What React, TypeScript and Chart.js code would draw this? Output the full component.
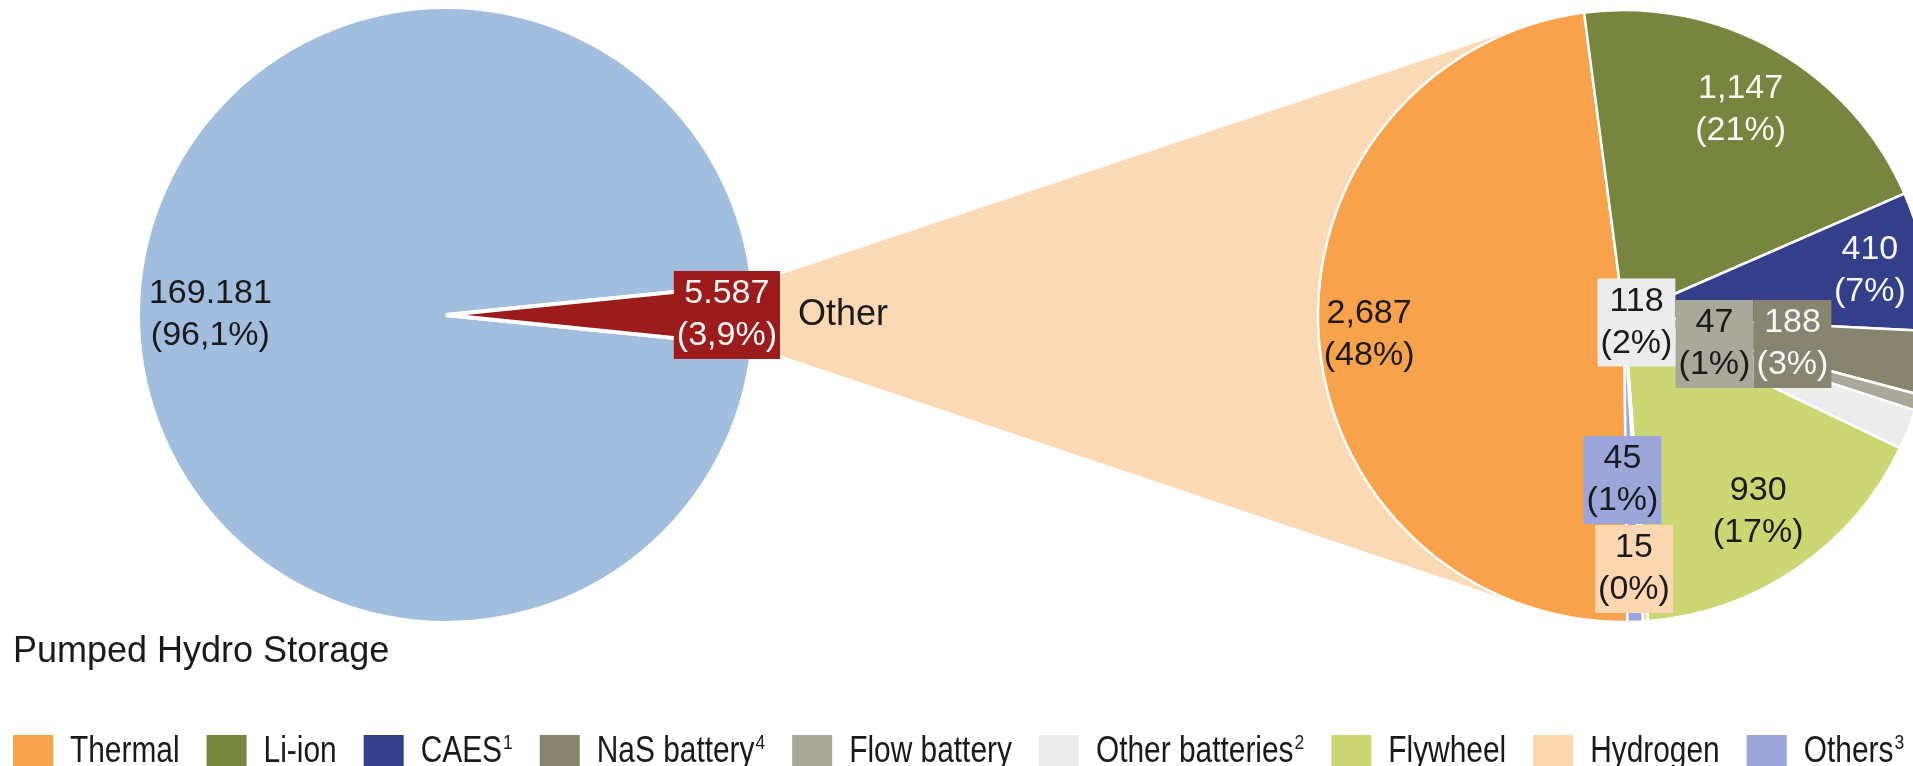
import React, { useEffect, useRef } from "react";
import { Chart, registerables } from "chart.js";

Chart.register(...registerables);

const WIDTH = 1913;
const HEIGHT = 766;
const FONT = '"Liberation Sans", Arial, Helvetica, sans-serif';
const DARK = "#1a1a1a";
const LIGHT = "#f7f7f7";

// Overview pie: pumped hydro versus all other technologies
const overviewLabels = ["Pumped Hydro Storage", "Other"];
const overviewValues = [169181, 5587];
const overviewShares = ["(96,1%)", "(3,9%)"];
const overviewColors = ["#a2bedf", "#9c1b1b"];

// Breakdown pie: the "Other" slice split by technology
const techLabels = [
  "Thermal",
  "Li-ion",
  "CAES",
  "NaS battery",
  "Flow battery",
  "Other batteries",
  "Flywheel",
  "Hydrogen",
  "Others",
];
const techFootnotes = ["", "", "1", "4", "", "2", "", "", "3"];
const techValues = [2687, 1147, 410, 188, 47, 118, 930, 15, 45];
const techColors = [
  "#f8a24b",
  "#77853f",
  "#343f8a",
  "#87846f",
  "#a9a89b",
  "#ececec",
  "#ccd774",
  "#fcd7b1",
  "#9ca6da",
];
const bridgeColor = "#fbd9b5";

type LabelSpec = { r?: number; dx?: number; dy?: number; color: string; boxed?: boolean };

// r: fraction of the radius along the slice bisector; dx/dy: offset from the pie centre
const overviewLabelSpecs: LabelSpec[] = [
  { r: 0.765, color: DARK },
  { r: 0.912, color: LIGHT, boxed: true },
];
const techLabelSpecs: LabelSpec[] = [
  { r: 0.835, color: DARK },
  { r: 0.775, color: LIGHT },
  { r: 0.817, color: LIGHT },
  { dx: 168.5, dy: 28, color: LIGHT, boxed: true },
  { dx: 90.5, dy: 28, color: DARK, boxed: true },
  { dx: 12.5, dy: 6.5, color: DARK, boxed: true },
  { r: 0.775, color: DARK },
  { dx: 10, dy: 253, color: DARK, boxed: true },
  { dx: -1.5, dy: 164, color: DARK, boxed: true },
];

const sum = (arr: number[]) => arr.reduce((a, b) => a + b, 0);
const groupDigits = (n: number, sep: string) =>
  String(n).replace(/\B(?=(\d{3})+(?!\d))/g, sep);

function anchorFor(arc: any, spec: LabelSpec) {
  if (spec.r !== undefined) {
    const mid = (arc.startAngle + arc.endAngle) / 2;
    return {
      x: arc.x + Math.cos(mid) * arc.outerRadius * spec.r,
      y: arc.y + Math.sin(mid) * arc.outerRadius * spec.r,
    };
  }
  return { x: arc.x + (spec.dx ?? 0), y: arc.y + (spec.dy ?? 0) };
}

function drawValueLabel(
  ctx: CanvasRenderingContext2D,
  x: number,
  y: number,
  lines: string[],
  color: string,
  boxColor?: string
) {
  const lh = 42;
  ctx.save();
  ctx.font = `34px ${FONT}`;
  ctx.textAlign = "center";
  ctx.textBaseline = "middle";
  const w = Math.max(...lines.map((l) => ctx.measureText(l).width));
  const box = { left: x - w / 2 - 3, top: y - lh - 2, width: w + 6, height: lh * 2 + 4 };
  if (boxColor) {
    ctx.fillStyle = boxColor;
    ctx.fillRect(box.left, box.top, box.width, box.height);
  }
  ctx.fillStyle = color;
  lines.forEach((l, i) => ctx.fillText(l, x, y + (i - (lines.length - 1) / 2) * lh));
  ctx.restore();
  return box;
}

function drawLegend(ctx: CanvasRenderingContext2D) {
  const squeeze = 0.83;
  const top = 735;
  const baseline = 762;
  let x = 13;
  ctx.save();
  ctx.textAlign = "left";
  ctx.textBaseline = "alphabetic";
  techLabels.forEach((label, i) => {
    ctx.fillStyle = techColors[i];
    ctx.fillRect(x, top, 40, 40);
    x += 57;
    ctx.font = `36px ${FONT}`;
    const w = ctx.measureText(label).width * squeeze;
    ctx.save();
    ctx.translate(x, baseline);
    ctx.scale(squeeze, 1);
    ctx.fillStyle = DARK;
    ctx.fillText(label, 0, 0);
    ctx.restore();
    x += w;
    const note = techFootnotes[i];
    if (note) {
      x += 1;
      ctx.font = `21px ${FONT}`;
      const sw = ctx.measureText(note).width * squeeze;
      ctx.save();
      ctx.translate(x, baseline - 13);
      ctx.scale(squeeze, 1);
      ctx.fillStyle = DARK;
      ctx.fillText(note, 0, 0);
      ctx.restore();
      x += sw;
    }
    x += 27;
  });
  ctx.restore();
}

export default function App() {
  const leftRef = useRef<HTMLCanvasElement>(null);
  const rightRef = useRef<HTMLCanvasElement>(null);

  useEffect(() => {
    document.body.style.margin = "0";
    document.body.style.overflow = "hidden";
    Chart.defaults.font.family = FONT;

    const techTotal = sum(techValues);
    const overviewTotal = sum(overviewValues);

    const techPlugin = {
      id: "techLabels",
      afterDatasetsDraw(chart: any) {
        const ctx = chart.ctx as CanvasRenderingContext2D;
        const arcs = chart.getDatasetMeta(0).data;
        techValues.forEach((v, i) => {
          const spec = techLabelSpecs[i];
          const p = anchorFor(arcs[i], spec);
          const lines = [groupDigits(v, ","), `(${Math.round((v / techTotal) * 100)}%)`];
          drawValueLabel(ctx, p.x, p.y, lines, spec.color, spec.boxed ? techColors[i] : undefined);
        });
        drawLegend(ctx);
      },
    };

    const right = new Chart(rightRef.current!, {
      type: "pie",
      data: {
        labels: techLabels,
        datasets: [
          {
            data: techValues,
            backgroundColor: techColors,
            borderColor: "#ffffff",
            borderWidth: 2.5,
            hoverOffset: 0,
            clip: false,
          } as any,
        ],
      },
      options: {
        responsive: false,
        animation: false,
        devicePixelRatio: 1,
        events: [],
        rotation: -7.5 - (360 * techValues[0]) / techTotal,
        radius: 306,
        layout: { padding: { left: 1335, right: 0, top: 10, bottom: 144 } },
        plugins: { legend: { display: false }, tooltip: { enabled: false } },
      } as any,
      plugins: [techPlugin],
    });

    const overviewPlugin = {
      id: "overviewLabels",
      afterDatasetsDraw(chart: any) {
        const ctx = chart.ctx as CanvasRenderingContext2D;
        const arcs = chart.getDatasetMeta(0).data;

        // Bridge from the "Other" slice to the breakdown pie
        const src: any = arcs[1];
        const dst: any = right.getDatasetMeta(0).data[0];
        if (src && dst) {
          const a = {
            x: src.x + src.outerRadius * Math.cos(src.startAngle),
            y: src.y + src.outerRadius * Math.sin(src.startAngle),
          };
          const b = {
            x: src.x + src.outerRadius * Math.cos(src.endAngle),
            y: src.y + src.outerRadius * Math.sin(src.endAngle),
          };
          const upper = a.y < b.y ? a : b;
          const lower = a.y < b.y ? b : a;
          const R = dst.outerRadius;
          const tangent = (p: { x: number; y: number }, sign: number) => {
            const dx = dst.x - p.x;
            const dy = dst.y - p.y;
            const d = Math.hypot(dx, dy);
            const ang = Math.atan2(dy, dx) + sign * Math.asin(R / d);
            const L = Math.sqrt(d * d - R * R);
            return { x: p.x + L * Math.cos(ang), y: p.y + L * Math.sin(ang) };
          };
          const t1 = tangent(upper, -1);
          const t2 = tangent(lower, 1);
          ctx.save();
          ctx.fillStyle = bridgeColor;
          ctx.beginPath();
          ctx.moveTo(upper.x, upper.y);
          ctx.lineTo(t1.x, t1.y);
          ctx.lineTo(dst.x, dst.y);
          ctx.lineTo(t2.x, t2.y);
          ctx.lineTo(lower.x, lower.y);
          ctx.closePath();
          ctx.fill();
          ctx.restore();
        }

        overviewValues.forEach((v, i) => {
          const spec = overviewLabelSpecs[i];
          const p = anchorFor(arcs[i], spec);
          const box = drawValueLabel(
            ctx,
            p.x,
            p.y,
            [groupDigits(v, "."), overviewShares[i]],
            spec.color,
            spec.boxed ? overviewColors[i] : undefined
          );
          if (i === 1) {
            ctx.save();
            ctx.font = `36px ${FONT}`;
            ctx.fillStyle = DARK;
            ctx.textAlign = "left";
            ctx.textBaseline = "middle";
            ctx.fillText(overviewLabels[1], box.left + box.width + 18, p.y);
            ctx.restore();
          }
        });

        ctx.save();
        ctx.font = `36px ${FONT}`;
        ctx.fillStyle = DARK;
        ctx.textAlign = "left";
        ctx.textBaseline = "alphabetic";
        ctx.fillText(overviewLabels[0], 13, 662);
        ctx.restore();
      },
    };

    const left = new Chart(leftRef.current!, {
      type: "pie",
      data: {
        labels: overviewLabels,
        datasets: [
          {
            data: overviewValues,
            backgroundColor: overviewColors,
            borderColor: "#ffffff",
            borderWidth: 4,
            hoverOffset: 0,
            clip: false,
          } as any,
        ],
      },
      options: {
        responsive: false,
        animation: false,
        devicePixelRatio: 1,
        events: [],
        rotation: 90 - (360 * (overviewValues[0] + overviewValues[1] / 2)) / overviewTotal,
        radius: 308,
        layout: { padding: { left: 140, right: 1161, top: 9, bottom: 145 } },
        plugins: { legend: { display: false }, tooltip: { enabled: false } },
      } as any,
      plugins: [overviewPlugin],
    });

    return () => {
      left.destroy();
      right.destroy();
    };
  }, []);

  const canvasStyle: React.CSSProperties = {
    position: "absolute",
    left: 0,
    top: 0,
    width: WIDTH,
    height: HEIGHT,
  };

  return (
    <div
      style={{
        position: "relative",
        width: WIDTH,
        height: HEIGHT,
        background: "#ffffff",
        overflow: "hidden",
      }}
    >
      <canvas ref={leftRef} width={WIDTH} height={HEIGHT} style={canvasStyle} />
      <canvas ref={rightRef} width={WIDTH} height={HEIGHT} style={canvasStyle} />
    </div>
  );
}
